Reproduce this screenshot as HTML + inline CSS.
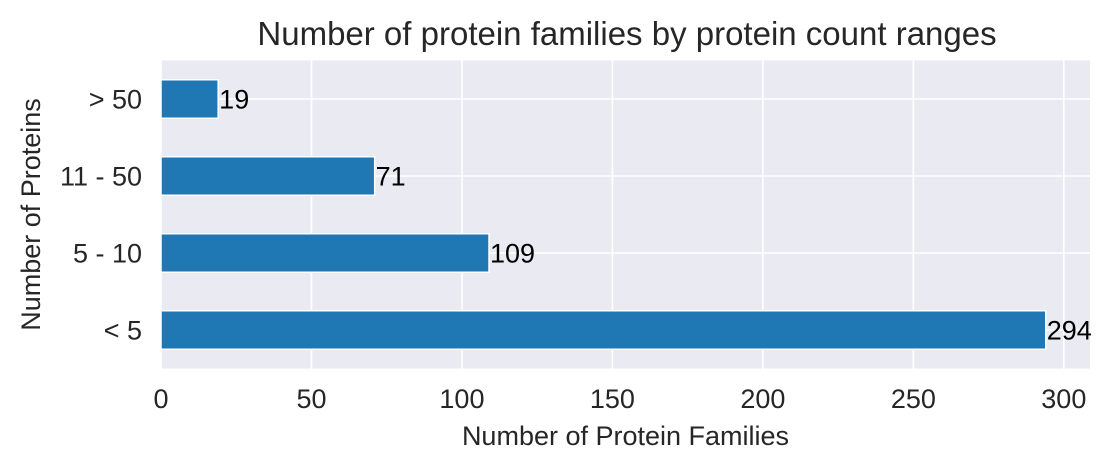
<!DOCTYPE html>
<html><head><meta charset="utf-8"><style>
html,body{margin:0;padding:0;background:#fff;}
svg{display:block;font-family:"Liberation Sans",Arial,sans-serif;}
</style></head><body>
<svg id="chart" width="1113" height="471" viewBox="0 0 1113 471" xmlns="http://www.w3.org/2000/svg"></svg>
<script>
const categories = ["< 5", "5 - 10", "11 - 50", "> 50"];
const values = [294, 109, 71, 19];
const xTicks = [0, 50, 100, 150, 200, 250, 300];

const NS = "http://www.w3.org/2000/svg";
const svg = document.getElementById("chart");
const L = 161, R = 1090, T = 60.5, B = 368.5;
const xMax = 308.7;
const xs = v => L + v / xMax * (R - L);
const band = (B - T) / categories.length;
const yc = i => B - (i + 0.5) * band;

function mk(tag, attrs, text) {
  const e = document.createElementNS(NS, tag);
  for (const k in attrs) e.setAttribute(k, attrs[k]);
  if (text !== undefined) e.textContent = text;
  svg.appendChild(e);
  return e;
}

let bg = mk("rect", {x: L, y: T, width: R - L, height: B - T, fill: "#eaeaf2"});



xTicks.forEach(t => {
  const g = mk("line", {x1: xs(t), x2: xs(t), y1: T, y2: B, stroke: "#fff", "stroke-width": 1.6});
  
  
  const lb = mk("text", {x: xs(t), y: 408, "text-anchor": "middle", "font-size": 27, fill: "#262626"}, String(t));
  
  
});
categories.forEach((c, i) => {
  const g = mk("line", {x1: L, x2: R, y1: yc(i), y2: yc(i), stroke: "#fff", "stroke-width": 1.6});
  
  
});
categories.forEach((c, i) => {
  const h = band * 0.5;
  const b = mk("rect", {x: xs(0), y: yc(i) - h / 2, width: xs(values[i]) - xs(0), height: h, fill: "#1f77b4", stroke: "#fff", "stroke-width": 1.5});
  
  
  const v = mk("text", {x: xs(values[i]) + 1, y: yc(i) + 9.5, "font-size": 27, fill: "#000"}, String(values[i]));
  
  
  const lb = mk("text", {x: 142, y: yc(i) + 9.5, "text-anchor": "end", "font-size": 27, fill: "#262626"}, c);
  
  
});

let t = mk("text", {x: 627, y: 45, "text-anchor": "middle", "font-size": 33, fill: "#262626"}, "Number of protein families by protein count ranges");


let xt = mk("text", {x: (L + R) / 2, y: 445, "text-anchor": "middle", "font-size": 27, fill: "#262626"}, "Number of Protein Families");


let yt = mk("text", {x: 0, y: 0, "text-anchor": "middle", "font-size": 27, fill: "#262626", transform: "translate(40," + ((T + B) / 2) + ") rotate(-90)"}, "Number of Proteins");


</script>
</body></html>
